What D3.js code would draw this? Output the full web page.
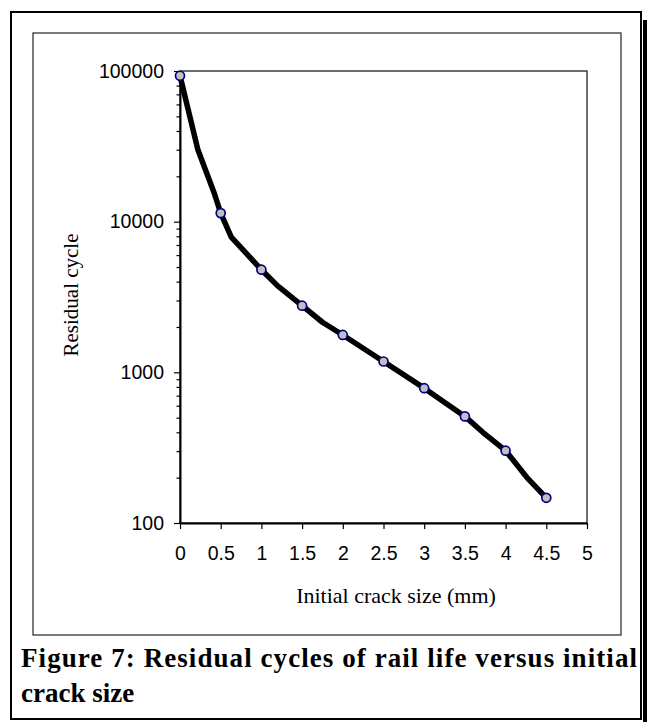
<!DOCTYPE html>
<html>
<head>
<meta charset="utf-8">
<script src="https://cdn.jsdelivr.net/npm/d3@7"></script>
<style>
  body { margin: 0; background: #fff; }
  svg { display: block; }
</style>
</head>
<body>
<svg id="chart" width="647" height="722"></svg>
<script>
// marker points (initial crack size in mm, residual cycles)
const crackSize = [0, 0.5, 1, 1.5, 2, 2.5, 3, 3.5, 4, 4.5];
const residualCycles = [93000, 11400, 4800, 2770, 1770, 1180, 785, 510, 302, 147];

// the drawn curve also passes through some points between the markers
const curveSize = [0, 0.22, 0.42, 0.5, 0.63, 1, 1.2, 1.5, 1.75, 2, 2.5, 3, 3.5, 3.72, 4, 4.26, 4.5];
const curveCycles = [93000, 30000, 15500, 11400, 7900, 4800, 3750, 2770, 2150, 1770, 1180, 785, 510, 400, 302, 201, 147];

const xTicks = [0, 0.5, 1, 1.5, 2, 2.5, 3, 3.5, 4, 4.5, 5];
const yTicks = [100, 1000, 10000, 100000];

const xTitle = 'Initial crack size (mm)';
const yTitle = 'Residual cycle';
const captionLine1 = 'Figure 7: Residual cycles of rail life versus initial';
const captionLine2 = 'crack size';

const svg = d3.select('#chart');

// plot area
const plot = { left: 180, right: 587, top: 71, bottom: 523 };

const x = d3.scaleLinear().domain([0, 5]).range([plot.left, plot.right]);
const y = d3.scaleLog().domain([100, 100000]).range([plot.bottom, plot.top]);

// outer figure frame + shadow on right side
svg.append('rect')
  .attr('x', 11).attr('y', 12)
  .attr('width', 630).attr('height', 707)
  .attr('fill', 'none')
  .attr('stroke', '#000')
  .attr('stroke-width', 2);
svg.append('rect')
  .attr('x', 643).attr('y', 20)
  .attr('width', 4).attr('height', 702)
  .attr('fill', '#000');

// chart frame
svg.append('rect')
  .attr('x', 33).attr('y', 33)
  .attr('width', 588).attr('height', 602)
  .attr('fill', 'none')
  .attr('stroke', '#222')
  .attr('stroke-width', 1.2);

// plot area border
svg.append('rect')
  .attr('x', plot.left).attr('y', plot.top)
  .attr('width', plot.right - plot.left)
  .attr('height', plot.bottom - plot.top)
  .attr('fill', 'none')
  .attr('stroke', '#222')
  .attr('stroke-width', 1.3);

// minor ticks on the log axis (2..9 of each decade)
const minorTicks = [];
[100, 1000, 10000].forEach((d) => {
  for (let k = 2; k <= 9; k++) minorTicks.push(d * k);
});

svg.append('g')
  .attr('transform', `translate(${plot.left},0)`)
  .call(d3.axisLeft(y).tickValues(minorTicks).tickSize(3.5).tickSizeOuter(0).tickFormat(''))
  .call((g) => g.select('.domain').remove())
  .call((g) => g.selectAll('line').attr('stroke', '#000').attr('stroke-width', 1.2));

const yAxis = svg.append('g')
  .attr('transform', `translate(${plot.left},0)`)
  .call(d3.axisLeft(y).tickValues(yTicks).tickSize(6).tickSizeOuter(0).tickPadding(10).tickFormat((d) => String(d)));

const xAxis = svg.append('g')
  .attr('transform', `translate(0,${plot.bottom})`)
  .call(d3.axisBottom(x).tickValues(xTicks).tickSize(6).tickSizeOuter(0).tickPadding(17).tickFormat((d) => String(d)));

[yAxis, xAxis].forEach((g) => {
  g.select('.domain').attr('stroke', '#000').attr('stroke-width', 2);
  g.selectAll('line').attr('stroke', '#000').attr('stroke-width', 1.2);
  g.selectAll('text')
    .attr('fill', '#000')
    .style('font-family', '"Liberation Sans", Arial, sans-serif')
    .style('font-size', '19.5px');
});

// curve
const line = d3.line()
  .x((d, i) => x(curveSize[i]))
  .y((d) => y(d));

svg.append('path')
  .datum(curveCycles)
  .attr('d', line)
  .attr('fill', 'none')
  .attr('stroke', '#000')
  .attr('stroke-width', 5.5)
  .attr('stroke-linejoin', 'round');

svg.selectAll('.dot')
  .data(residualCycles)
  .enter()
  .append('circle')
  .attr('class', 'dot')
  .attr('cx', (d, i) => x(crackSize[i]))
  .attr('cy', (d) => y(d))
  .attr('r', 4.5)
  .attr('fill', '#c0c0c0')
  .attr('stroke', '#000080')
  .attr('stroke-width', 1.7);

// axis titles
svg.append('text')
  .attr('x', 396).attr('y', 603)
  .attr('text-anchor', 'middle')
  .style('font-family', '"Liberation Serif", "Times New Roman", serif')
  .style('font-size', '22px')
  .text(xTitle);

svg.append('text')
  .attr('transform', 'translate(78,295) rotate(-90)')
  .attr('text-anchor', 'middle')
  .style('font-family', '"Liberation Serif", "Times New Roman", serif')
  .style('font-size', '21px')
  .text(yTitle);

// caption
svg.append('text')
  .attr('x', 21).attr('y', 667)
  .attr('textLength', 616)
  .attr('lengthAdjust', 'spacing')
  .style('font-family', '"Liberation Serif", "Times New Roman", serif')
  .style('font-weight', 'bold')
  .style('font-size', '27px')
  .text(captionLine1);

svg.append('text')
  .attr('x', 21).attr('y', 702)
  .style('font-family', '"Liberation Serif", "Times New Roman", serif')
  .style('font-weight', 'bold')
  .style('font-size', '27px')
  .text(captionLine2);
</script>
</body>
</html>
